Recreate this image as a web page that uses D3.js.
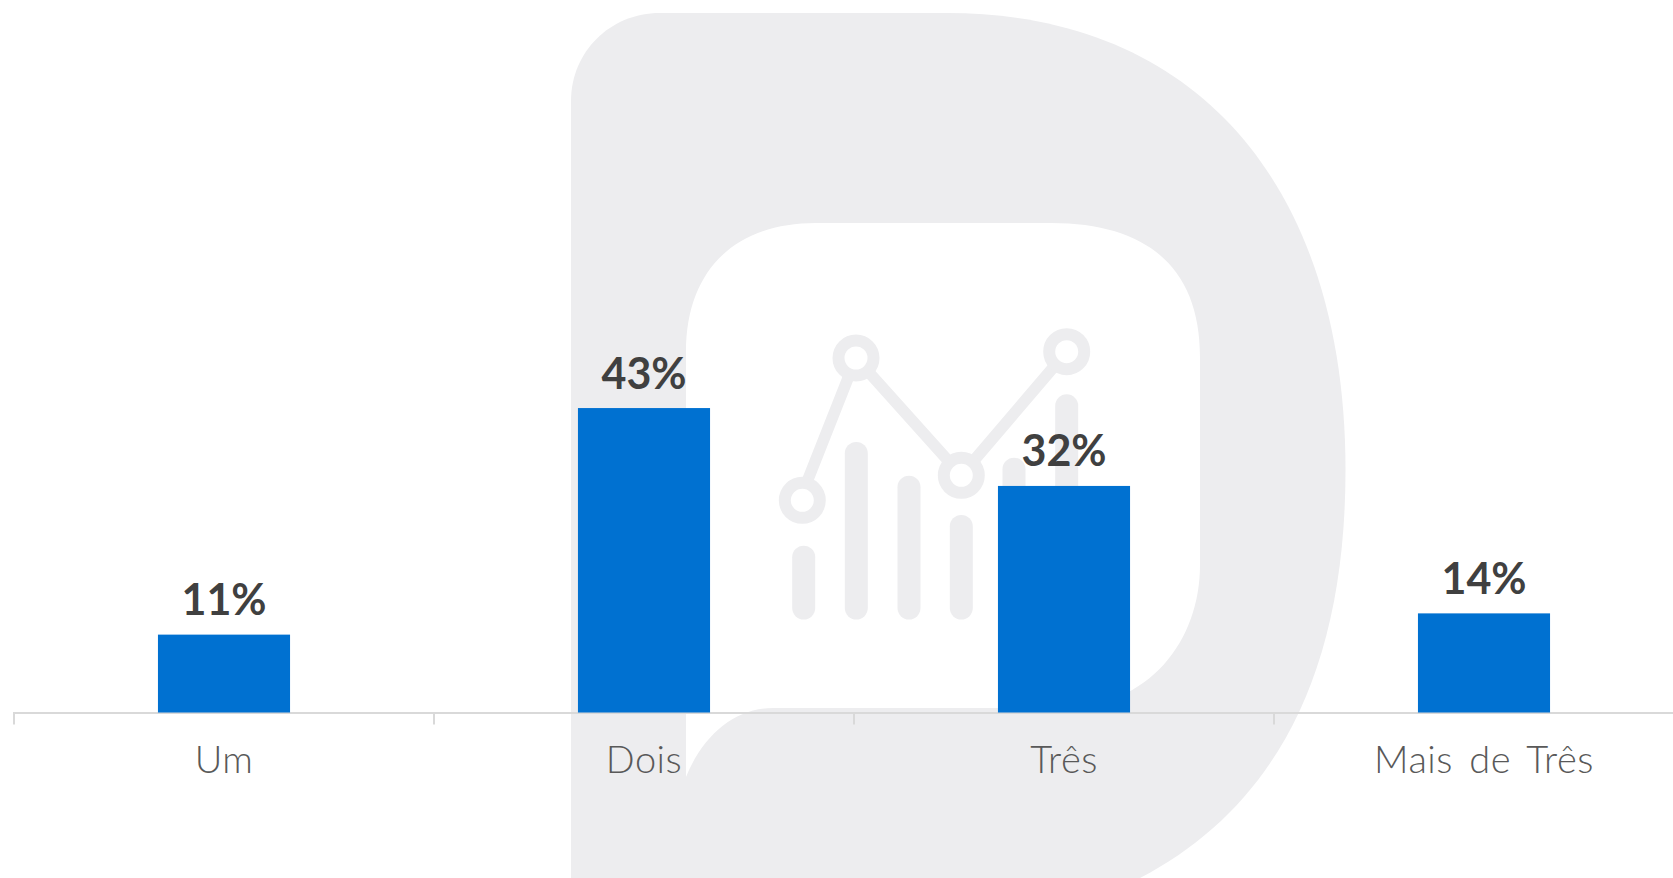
<!DOCTYPE html>
<html lang="pt">
<head>
<meta charset="utf-8">
<title>Distribuição</title>
<script src="https://cdn.jsdelivr.net/npm/d3@7/dist/d3.min.js"></script>
<style>
  html, body { margin: 0; padding: 0; background: #fff; overflow: hidden; }
  svg { display: block; }
  text { font-family: Lato, "Open Sans", sans-serif; }
</style>
</head>
<body>
<svg id="chart" width="1673" height="878"></svg>
<script>
// Chart data
const categories = ["Um", "Dois", "Três", "Mais de Três"];
const shares = [11, 43, 32, 14];

// Logo drawn behind the chart: a rounded "D" with a small line-and-bar icon
const logoOuter = "M571,101 C571,52 610,13 660,13 L947,13 C1200,13 1345.5,190 1345.5,470 C1345.5,680 1270,810 1140,878 L571,878 Z";
const logoInner = "M686,352 C686,270 735,223 816,223 L1051,223 C1150,223 1200,270 1200,357 L1200,565 C1200,640 1150,708 1060,708 L773,708 C735,708 703,735 686,777 Z";
const iconBarCentres = [803.7, 856.3, 909, 961.3, 1014, 1066.7];
const iconBarTops = [545.7, 442, 475.7, 515, 457.7, 394.3];
const iconNodes = [[802.3, 500.3], [856, 358], [961.3, 475.3], [1066.7, 351.7]];
const iconTrace = [[799.7, 500.3], [856, 358], [961.3, 475.3], [1066.7, 351.7]];

const logoColor = "#ededef";
const barColor = "#0071d1";
const axisColor = "#d9d9d9";

const svg = d3.select("#chart");

const logo = svg.append("g").attr("class", "logo");
logo.append("path").attr("d", logoOuter).attr("fill", logoColor);
logo.append("path").attr("d", logoInner).attr("fill", "#fff");
logo.selectAll("rect")
  .data(iconBarCentres)
  .join("rect")
  .attr("x", d => d - 11.5)
  .attr("y", (d, i) => iconBarTops[i])
  .attr("width", 23)
  .attr("height", (d, i) => 619.5 - iconBarTops[i])
  .attr("rx", 11.5)
  .attr("fill", logoColor);
logo.append("path")
  .attr("d", d3.line()(iconTrace))
  .attr("fill", "none")
  .attr("stroke", logoColor)
  .attr("stroke-width", 11.5);
logo.selectAll("circle")
  .data(iconNodes)
  .join("circle")
  .attr("cx", d => d[0])
  .attr("cy", d => d[1])
  .attr("r", 17.5)
  .attr("fill", "#fff")
  .attr("stroke", logoColor)
  .attr("stroke-width", 12);

// Scales
const baseline = 712.5;
const x = d3.scaleBand()
  .domain(categories)
  .range([14, 1694])
  .paddingInner(0.6855)
  .paddingOuter(0.34275);
const y = d3.scaleLinear()
  .domain([0, 50])
  .range([baseline, baseline - 354]);

// Category axis: labels sit at band centres, ticks fall on the band boundaries
const axis = svg.append("g")
  .attr("class", "x-axis")
  .attr("transform", `translate(0,${baseline})`)
  .call(d3.axisBottom(x).tickSize(0).tickPadding(34));
axis.select(".domain").remove();
axis.selectAll("text")
  .attr("fill", "#595959")
  .attr("font-size", 38)
  .attr("font-weight", 300)
  .attr("letter-spacing", 0.5)
  .attr("word-spacing", 5.5);

const step = x.step();
const axisLines = svg.append("g").attr("class", "axis-lines")
  .attr("stroke", axisColor)
  .attr("fill", "none");
axisLines.append("line")
  .attr("x1", 13).attr("x2", 1673)
  .attr("y1", baseline + 0.5).attr("y2", baseline + 0.5)
  .attr("stroke-width", 2);
axisLines.selectAll("line.tick-mark")
  .data(categories)
  .join("line")
  .attr("class", "tick-mark")
  .attr("x1", d => x(d) - x.paddingOuter() * step)
  .attr("x2", d => x(d) - x.paddingOuter() * step)
  .attr("y1", baseline)
  .attr("y2", baseline + 12)
  .attr("stroke-width", 2);

// Bars
svg.append("g").selectAll("rect")
  .data(categories)
  .join("rect")
  .attr("x", d => x(d))
  .attr("y", (d, i) => y(shares[i]))
  .attr("width", x.bandwidth())
  .attr("height", (d, i) => baseline - y(shares[i]))
  .attr("fill", barColor);

// Value labels
svg.append("g").selectAll("text")
  .data(categories)
  .join("text")
  .attr("x", d => x(d) + x.bandwidth() / 2)
  .attr("y", (d, i) => y(shares[i]) - 19.5)
  .attr("text-anchor", "middle")
  .attr("font-size", 43)
  .attr("font-weight", 700)
  .attr("fill", "#404040")
  .text((d, i) => shares[i] + "%");
</script>
</body>
</html>
